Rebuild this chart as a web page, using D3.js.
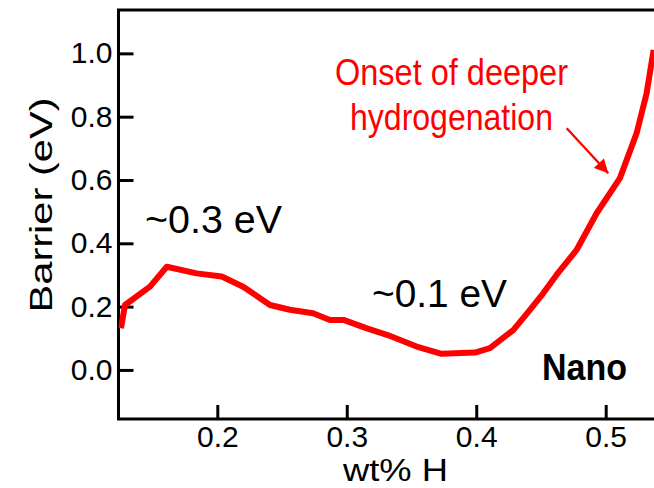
<!DOCTYPE html>
<html>
<head>
<meta charset="utf-8">
<script src="https://cdn.jsdelivr.net/npm/d3@7"></script>
<style>
  body { margin: 0; background: #fff; }
  svg { display: block; font-family: "Liberation Sans", Arial, sans-serif; }
</style>
</head>
<body>
<div class="chart"></div>
<script>
// barrier vs. hydrogen content
var wtH     = [0.1256, 0.1287, 0.148, 0.161, 0.184, 0.2034, 0.220, 0.2407, 0.256, 0.274, 0.287, 0.2975,
               0.315, 0.331, 0.354, 0.3733, 0.399, 0.4106, 0.4286, 0.4415, 0.4517, 0.462, 0.4775,
               0.493, 0.511, 0.5239, 0.5316, 0.537];
var barrier = [0.132, 0.205, 0.263, 0.326, 0.305, 0.295, 0.263, 0.205, 0.19, 0.179, 0.158, 0.158,
               0.132, 0.111, 0.074, 0.051, 0.055, 0.069, 0.126, 0.19, 0.242, 0.30, 0.379,
               0.495, 0.606, 0.748, 0.874, 1.011];
var xTicks = [0.2, 0.3, 0.4, 0.5];
var yTicks = [0.0, 0.2, 0.4, 0.6, 0.8, 1.0];

var width = 654, height = 488;
// plot frame (note: "top" is a reserved window global, so use a margin object)
var frame = { left: 118.5, top: 10, bottom: 419, right: 662 };

// scale fixed from two tick positions, then stretched to the frame
var x = d3.scaleLinear().domain([0.2, 0.5]).range([217.3, 605.7]);
x.domain([x.invert(frame.left), x.invert(frame.right)]).range([frame.left, frame.right]);
var y = d3.scaleLinear().domain([-0.155, 1.137]).range([frame.bottom, frame.top]);

var svg = d3.select(".chart").append("svg")
    .attr("width", width)
    .attr("height", height);

var fmt = d3.format(".1f");

var gy = svg.append("g")
    .attr("transform", "translate(" + frame.left + ",0)")
    .call(d3.axisLeft(y).tickValues(yTicks).tickFormat(fmt).tickSize(-15).tickSizeOuter(0).tickPadding(6));

var gx = svg.append("g")
    .attr("transform", "translate(0," + frame.bottom + ")")
    .call(d3.axisBottom(x).tickValues(xTicks).tickFormat(fmt).tickSize(-14).tickSizeOuter(0).tickPadding(7));

[gy, gx].forEach(function(g) {
  g.attr("font-size", 30).attr("font-family", "'Liberation Sans', Arial, sans-serif");
  g.select(".domain").remove();
  g.selectAll(".tick line").attr("stroke", "#000").attr("stroke-width", 3);
  g.selectAll(".tick text").attr("fill", "#000");
});

// frame: left, bottom, top (right edge is off the picture)
svg.append("path")
    .attr("d", "M" + frame.right + "," + frame.top + "H" + frame.left + "V" + frame.bottom + "H" + frame.right)
    .attr("fill", "none")
    .attr("stroke", "#000")
    .attr("stroke-width", 3);

svg.append("defs").append("clipPath").attr("id", "plot")
  .append("rect").attr("x", frame.left).attr("y", frame.top)
    .attr("width", frame.right - frame.left).attr("height", frame.bottom - frame.top);

var line = d3.line()
    .x(function(d, i) { return x(wtH[i]); })
    .y(function(d) { return y(d); });

svg.append("path")
    .datum(barrier)
    .attr("clip-path", "url(#plot)")
    .attr("d", line)
    .attr("fill", "none")
    .attr("stroke", "#ff0000")
    .attr("stroke-width", 6)
    .attr("stroke-linejoin", "round");

// axis titles
svg.append("text")
    .attr("transform", "translate(52,205) rotate(-90)")
    .attr("text-anchor", "middle")
    .attr("textLength", 215)
    .attr("lengthAdjust", "spacingAndGlyphs")
    .style("font-size", "32px")
    .text("Barrier (eV)");

svg.append("text")
    .attr("x", 395.5).attr("y", 481)
    .attr("text-anchor", "middle")
    .attr("textLength", 105)
    .attr("lengthAdjust", "spacingAndGlyphs")
    .style("font-size", "31px")
    .text("wt% H");

// annotations
svg.append("text")
    .attr("x", 145).attr("y", 233)
    .attr("textLength", 137)
    .attr("lengthAdjust", "spacingAndGlyphs")
    .style("font-size", "38px")
    .text("~0.3 eV");

svg.append("text")
    .attr("x", 372).attr("y", 306.5)
    .attr("textLength", 135)
    .attr("lengthAdjust", "spacingAndGlyphs")
    .style("font-size", "38px")
    .text("~0.1 eV");

svg.append("text")
    .attr("x", 542).attr("y", 380)
    .attr("textLength", 85)
    .attr("lengthAdjust", "spacingAndGlyphs")
    .style("font-size", "37px")
    .style("font-weight", "bold")
    .text("Nano");

var note = svg.append("g").attr("fill", "#ff0000");
note.append("text")
    .attr("x", 335).attr("y", 85)
    .attr("textLength", 233)
    .attr("lengthAdjust", "spacingAndGlyphs")
    .style("font-size", "36px")
    .text("Onset of deeper");
note.append("text")
    .attr("x", 350).attr("y", 130)
    .attr("textLength", 203)
    .attr("lengthAdjust", "spacingAndGlyphs")
    .style("font-size", "36px")
    .text("hydrogenation");

svg.append("defs").append("marker")
    .attr("id", "head")
    .attr("viewBox", "0 0 10 10")
    .attr("refX", 10).attr("refY", 5)
    .attr("markerWidth", 7).attr("markerHeight", 6)
    .attr("markerUnits", "strokeWidth")
    .attr("orient", "auto")
  .append("path")
    .attr("d", "M0,0L10,5L0,10Z")
    .attr("fill", "#ff0000");

svg.append("line")
    .attr("x1", 566.7).attr("y1", 128.3)
    .attr("x2", 608.3).attr("y2", 173.3)
    .attr("stroke", "#ff0000")
    .attr("stroke-width", 2.3)
    .attr("marker-end", "url(#head)");
</script>
</body>
</html>
